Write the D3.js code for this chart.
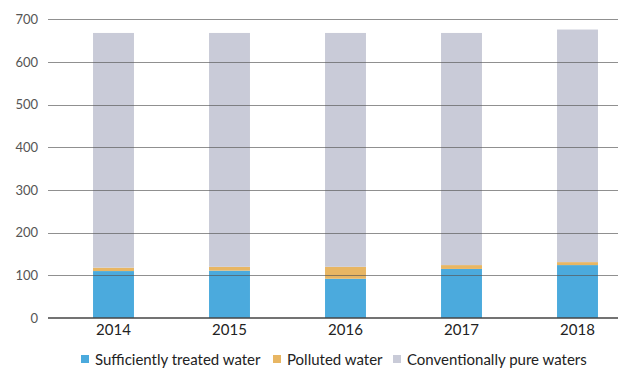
<!DOCTYPE html>
<html>
<head>
<meta charset="utf-8">
<script src="https://cdn.jsdelivr.net/npm/d3@7"></script>
<style>
  html, body { margin: 0; padding: 0; background: #fff; }
  svg { display: block; }
</style>
</head>
<body>
<svg id="chart" width="618" height="369"></svg>
<script>
const years = ["2014", "2015", "2016", "2017", "2018"];
const treated = [110, 111, 92, 115, 124];
const polluted = [8, 9, 28, 9, 7];
const pure = [550, 548, 548, 544, 545];
const yTicks = [0, 100, 200, 300, 400, 500, 600, 700];
const seriesNames = ["Sufficiently treated water", "Polluted water", "Conventionally pure waters"];
const seriesColors = ["#4BAADD", "#E8B663", "#C9CBD8"];

const svg = d3.select("#chart");
const font = "Lato, 'Open Sans', sans-serif";

const x = d3.scaleBand().domain(years).range([55.5, 635.5])
  .paddingInner(0.647).paddingOuter(0.3235);
const y = d3.scaleLinear().domain([0, 700]).range([318, 19.3]);

const rows = years.map((yr, i) => ({ year: yr, treated: treated[i], polluted: polluted[i], pure: pure[i] }));
const keys = ["treated", "polluted", "pure"];
const stack = d3.stack().keys(keys)(rows);

// bars
svg.append("g").selectAll("g").data(stack).join("g")
  .attr("fill", (d, i) => seriesColors[i])
  .selectAll("rect").data(d => d).join("rect")
  .attr("x", d => x(d.data.year))
  .attr("width", x.bandwidth())
  .attr("y", d => y(d[1]))
  .attr("height", d => y(d[0]) - y(d[1]));

// gridlines on top
const grid = svg.append("g");
grid.selectAll("line").data(yTicks.filter(t => t > 0)).join("line")
  .attr("x1", 48).attr("x2", 618)
  .attr("y1", d => Math.round(y(d)) + 0.5).attr("y2", d => Math.round(y(d)) + 0.5)
  .attr("stroke", "#555").attr("stroke-opacity", 0.65).attr("stroke-width", 1);
// zero line
svg.append("line")
  .attr("x1", 48).attr("x2", 618)
  .attr("y1", y(0)).attr("y2", y(0))
  .attr("stroke", "#444").attr("stroke-width", 1.6);

// y axis labels
const yAxis = d3.axisLeft(y).tickValues(yTicks).tickSize(0).tickPadding(0);
const yg = svg.append("g").attr("transform", "translate(38,0)").call(yAxis);
yg.select(".domain").remove();
yg.selectAll("text").attr("font-family", font).attr("font-size", 13).attr("fill", "#555");

// x axis labels
const xAxis = d3.axisBottom(x).tickSize(0).tickPadding(0);
const xg = svg.append("g").attr("transform", "translate(0,324)").call(xAxis);
xg.select(".domain").remove();
xg.selectAll("text").attr("font-family", font).attr("font-size", 15).attr("fill", "#222");

// legend
const legendX = [81, 273, 393];
const lg = svg.append("g");
seriesNames.forEach((name, i) => {
  lg.append("rect").attr("x", legendX[i]).attr("y", 355).attr("width", 8).attr("height", 8)
    .attr("fill", seriesColors[i]);
  lg.append("text").attr("x", legendX[i] + 14).attr("y", 364.5)
    .attr("font-family", font).attr("font-size", 15).attr("fill", "#222").text(name);
});
</script>
</body>
</html>
